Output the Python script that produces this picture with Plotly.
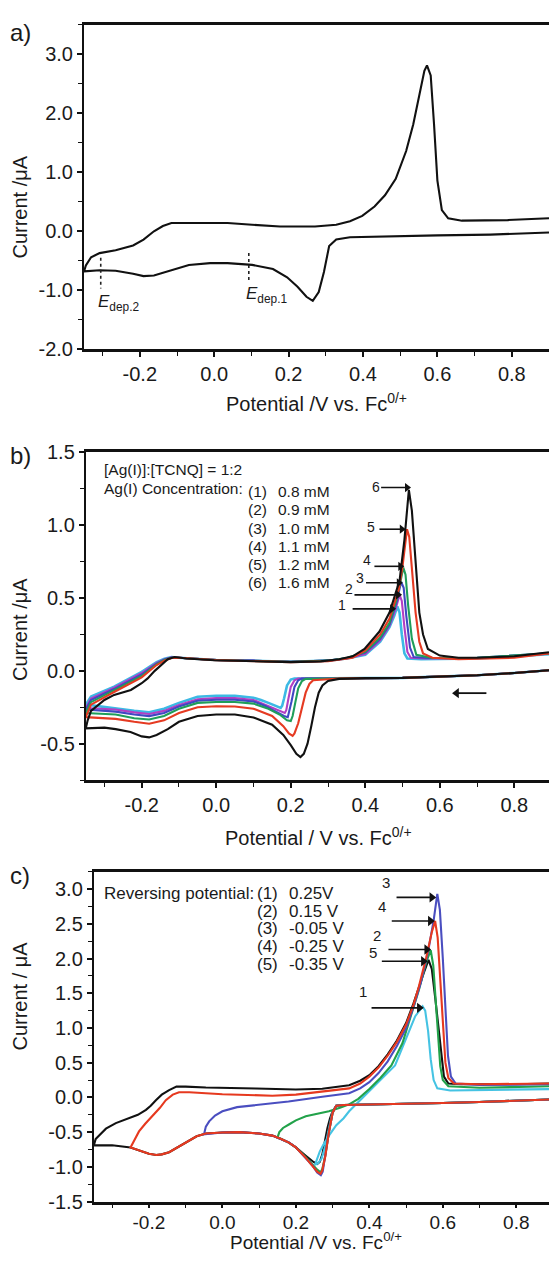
import plotly.graph_objects as go

W, H = 549, 1262
FONT = "Liberation Sans, Arial, sans-serif"

# ---------------- Panel a data (single CV, black) ----------------
a_V = [0.9, 0.742, 0.6, 0.459, 0.365, 0.328, 0.309, 0.295, 0.281, 0.265, 0.248, 0.224, 0.196, 0.158,
       0.102, 0.036, -0.011, -0.068, -0.124, -0.162, -0.19, -0.218, -0.265, -0.308, -0.35,
       -0.345, -0.331, -0.308, -0.265, -0.218, -0.19, -0.162, -0.138, -0.115, -0.058, 0.036, 0.102,
       0.177, 0.271, 0.328, 0.365, 0.398, 0.431, 0.459, 0.488, 0.516, 0.535, 0.554, 0.565, 0.572,
       0.582, 0.591, 0.6, 0.612, 0.629, 0.666, 0.789, 0.9]
a_I = [-0.02, -0.056, -0.07, -0.083, -0.1, -0.14, -0.25, -0.69, -1.03, -1.18, -1.11, -0.94, -0.78, -0.64,
       -0.57, -0.54, -0.54, -0.57, -0.67, -0.75, -0.76, -0.72, -0.67, -0.66, -0.68,
       -0.58, -0.44, -0.37, -0.32, -0.24, -0.14, 0.0, 0.09, 0.14, 0.14, 0.14, 0.11,
       0.08, 0.08, 0.11, 0.17, 0.26, 0.42, 0.61, 0.89, 1.36, 1.81, 2.42, 2.72, 2.81,
       2.64, 1.81, 0.86, 0.36, 0.22, 0.18, 0.19, 0.22]
a_dep_V = [-0.305, 0.093]
a_dep_top = [-0.45, -0.37]
a_dep_bot = [-0.97, -0.85]
a_dep_names = ["dep.2", "dep.1"]

# ---------------- Panel b data (6 concentrations) ----------------
b_names = ["1", "2", "3", "4", "5", "6"]
b_conc = ["0.8 mM", "0.9 mM", "1.0 mM", "1.1 mM", "1.2 mM", "1.6 mM"]
b_colors = ["#3cb9e4", "#b23fc4", "#3f48c2", "#1f9e5a", "#e53a22", "#111111"]

b_right_V = [0.893, 0.8, 0.7, 0.6, 0.5, 0.4, 0.33]
b_right_I = [0.004, -0.015, -0.03, -0.04, -0.048, -0.05, -0.052]

b1_V = b_right_V + [0.21, 0.2, 0.19, 0.182, 0.177, 0.173, 0.165, 0.14, 0.12, 0.1, 0.05, 0.0, -0.05, -0.1, -0.14, -0.18, -0.22, -0.27, -0.35,
                    -0.336, -0.274, -0.2, -0.16, -0.139, -0.12, -0.1, 0.0, 0.1, 0.2, 0.3, 0.35, 0.4, 0.44, 0.465, 0.478, 0.486, 0.492, 0.498, 0.505, 0.513, 0.55, 0.7, 0.893]
b1_I = b_right_I + [-0.053, -0.06, -0.1, -0.19, -0.24, -0.254, -0.245, -0.22, -0.2, -0.185, -0.172, -0.171, -0.178, -0.22, -0.26, -0.284, -0.275, -0.26, -0.232,
                    -0.176, -0.108, -0.007, 0.06, 0.083, 0.095, 0.09, 0.075, 0.07, 0.063, 0.07, 0.085, 0.11, 0.2, 0.3, 0.38, 0.443, 0.4, 0.25, 0.12, 0.085, 0.08, 0.085, 0.115]
b2_V = b_right_V + [0.22, 0.21, 0.2, 0.193, 0.188, 0.184, 0.175, 0.15, 0.12, 0.1, 0.05, 0.0, -0.05, -0.1, -0.14, -0.18, -0.22, -0.27, -0.35,
                    -0.336, -0.274, -0.2, -0.16, -0.139, -0.12, -0.1, 0.0, 0.1, 0.2, 0.3, 0.35, 0.4, 0.44, 0.465, 0.482, 0.492, 0.498, 0.505, 0.513, 0.522, 0.56, 0.7, 0.893]
b2_I = b_right_I + [-0.053, -0.065, -0.11, -0.2, -0.27, -0.289, -0.28, -0.25, -0.22, -0.2, -0.187, -0.187, -0.195, -0.235, -0.275, -0.296, -0.285, -0.265, -0.255,
                    -0.19, -0.115, -0.015, 0.055, 0.08, 0.093, 0.09, 0.075, 0.07, 0.063, 0.07, 0.085, 0.115, 0.21, 0.31, 0.43, 0.522, 0.48, 0.3, 0.13, 0.09, 0.085, 0.088, 0.118]
b3_V = b_right_V + [0.23, 0.22, 0.21, 0.202, 0.196, 0.192, 0.182, 0.16, 0.13, 0.1, 0.05, 0.0, -0.05, -0.1, -0.14, -0.18, -0.22, -0.27, -0.35,
                    -0.336, -0.274, -0.2, -0.16, -0.139, -0.12, -0.1, 0.0, 0.1, 0.2, 0.3, 0.35, 0.4, 0.44, 0.465, 0.485, 0.496, 0.503, 0.51, 0.52, 0.53, 0.57, 0.7, 0.893]
b3_I = b_right_I + [-0.053, -0.065, -0.11, -0.21, -0.29, -0.318, -0.31, -0.28, -0.24, -0.21, -0.198, -0.198, -0.205, -0.245, -0.29, -0.311, -0.3, -0.28, -0.266,
                    -0.2, -0.125, -0.025, 0.05, 0.078, 0.092, 0.09, 0.075, 0.07, 0.063, 0.07, 0.087, 0.125, 0.22, 0.32, 0.48, 0.612, 0.57, 0.38, 0.16, 0.095, 0.088, 0.09, 0.12]
b4_V = b_right_V + [0.24, 0.23, 0.22, 0.212, 0.205, 0.2, 0.19, 0.17, 0.14, 0.1, 0.05, 0.0, -0.05, -0.1, -0.14, -0.18, -0.22, -0.27, -0.35,
                    -0.336, -0.274, -0.2, -0.16, -0.139, -0.12, -0.1, 0.0, 0.1, 0.2, 0.3, 0.35, 0.4, 0.44, 0.465, 0.485, 0.495, 0.502, 0.508, 0.515, 0.525, 0.537, 0.58, 0.7, 0.893]
b4_I = b_right_I + [-0.055, -0.07, -0.12, -0.22, -0.31, -0.345, -0.34, -0.3, -0.26, -0.225, -0.214, -0.214, -0.22, -0.26, -0.31, -0.334, -0.325, -0.3, -0.289,
                    -0.215, -0.135, -0.035, 0.045, 0.075, 0.09, 0.09, 0.075, 0.07, 0.062, 0.07, 0.088, 0.13, 0.23, 0.33, 0.5, 0.62, 0.71, 0.66, 0.45, 0.22, 0.11, 0.088, 0.09, 0.12]
b5_V = b_right_V + [0.26, 0.25, 0.24, 0.23, 0.22, 0.21, 0.205, 0.195, 0.18, 0.15, 0.1, 0.05, 0.0, -0.05, -0.1, -0.14, -0.18, -0.22, -0.27, -0.35,
                    -0.336, -0.274, -0.2, -0.16, -0.139, -0.12, -0.1, 0.0, 0.1, 0.2, 0.3, 0.366, 0.4, 0.44, 0.465, 0.49, 0.5, 0.507, 0.512, 0.518, 0.525, 0.535, 0.545, 0.555, 0.58, 0.65, 0.8, 0.893]
b5_I = b_right_I + [-0.065, -0.09, -0.15, -0.25, -0.36, -0.43, -0.446, -0.43, -0.38, -0.31, -0.26, -0.245, -0.243, -0.25, -0.29, -0.34, -0.363, -0.35, -0.33, -0.318,
                    -0.232, -0.145, -0.045, 0.04, 0.07, 0.088, 0.09, 0.074, 0.068, 0.06, 0.066, 0.09, 0.14, 0.25, 0.36, 0.56, 0.72, 0.88, 0.973, 0.92, 0.7, 0.4, 0.2, 0.12, 0.09, 0.08, 0.09, 0.12]
b6_V = [0.893, 0.8, 0.7, 0.6, 0.5, 0.4, 0.33, 0.3, 0.285, 0.275, 0.265, 0.255, 0.245, 0.235, 0.226, 0.215, 0.2, 0.18, 0.15, 0.1, 0.05, 0.0, -0.05, -0.1, -0.13, -0.16, -0.18, -0.2, -0.23, -0.27, -0.3, -0.35,
        -0.345, -0.336, -0.3, -0.274, -0.229, -0.2, -0.184, -0.165, -0.148, -0.13, -0.112, -0.08, -0.005, 0.1, 0.2, 0.28, 0.33, 0.366, 0.398, 0.438, 0.465, 0.492, 0.505, 0.512, 0.517,
        0.525, 0.532, 0.545, 0.555, 0.568, 0.6, 0.65, 0.7, 0.8, 0.893]
b6_I = [0.004, -0.015, -0.03, -0.04, -0.048, -0.05, -0.055, -0.07, -0.1, -0.15, -0.25, -0.38, -0.5, -0.57, -0.592, -0.57, -0.51, -0.44, -0.37, -0.32, -0.3, -0.3, -0.31, -0.35, -0.4, -0.44, -0.457, -0.45, -0.42, -0.4, -0.39, -0.395,
        -0.34, -0.275, -0.2, -0.165, -0.131, -0.085, -0.052, 0.0, 0.038, 0.08, 0.095, 0.085, 0.073, 0.068, 0.06, 0.065, 0.08, 0.1, 0.15, 0.27, 0.4, 0.62, 0.9, 1.1, 1.243,
        1.1, 0.85, 0.4, 0.25, 0.15, 0.105, 0.09, 0.09, 0.1, 0.128]
b_V = [b1_V, b2_V, b3_V, b4_V, b5_V, b6_V]
b_I = [b1_I, b2_I, b3_I, b4_I, b5_I, b6_I]
# arrows pointing to the anodic peaks: head V, tail V, current level, label position
b_arrow_head_V = [0.472, 0.488, 0.49, 0.494, 0.498, 0.512]
b_arrow_I = [0.426, 0.522, 0.605, 0.718, 0.973, 1.259]
b_arrow_tail_V = [0.366, 0.371, 0.402, 0.4245, 0.438, 0.4425]
b_label_V = [0.337, 0.357, 0.387, 0.404, 0.416, 0.43]
b_label_I = [0.45, 0.56, 0.64, 0.76, 0.99, 1.265]
b_scan_V = [0.725, 0.645]
b_scan_I = -0.153

# ---------------- Panel c data (reversing potentials) ----------------
c_names = ["1", "2", "3", "4", "5"]
c_rev = ["0.25V", "0.15 V", "-0.05 V", "-0.25 V", "-0.35 V"]
c_colors = ["#45c3e3", "#22a24a", "#4a4ec0", "#e6391f", "#111111"]

c_right_V = [0.889, 0.8, 0.7, 0.6, 0.5, 0.4, 0.33, 0.31]
c_right_I = [-0.03, -0.05, -0.065, -0.08, -0.09, -0.1, -0.11, -0.12]
c_mid_V = [0.2, 0.181, 0.16, 0.136, 0.1, 0.045, 0.0, -0.045, -0.07, -0.09, -0.12, -0.145, -0.165, -0.18, -0.2, -0.22, -0.25]
c_mid_I = [-0.72, -0.65, -0.6, -0.55, -0.52, -0.5, -0.505, -0.52, -0.56, -0.62, -0.72, -0.79, -0.82, -0.83, -0.81, -0.77, -0.72]

c5_V = c_right_V + [0.3, 0.293, 0.286, 0.279, 0.272, 0.265, 0.258, 0.248, 0.235, 0.227] + c_mid_V + [-0.3, -0.35,
       -0.345, -0.317, -0.29, -0.254, -0.23, -0.208, -0.195, -0.181, -0.165, -0.145, -0.125, -0.1, -0.045, 0.091, 0.2, 0.272, 0.345, 0.375, 0.4, 0.425, 0.45, 0.475, 0.5, 0.52, 0.535, 0.55, 0.561,
       0.57, 0.58, 0.588, 0.595, 0.603, 0.615, 0.65, 0.8, 0.889]
c5_I = c_right_I + [-0.2, -0.3, -0.44, -0.63, -0.82, -0.93, -0.96, -0.93, -0.88, -0.84] + c_mid_I + [-0.69, -0.69,
       -0.6, -0.45, -0.37, -0.3, -0.25, -0.18, -0.12, -0.04, 0.04, 0.105, 0.155, 0.155, 0.142, 0.128, 0.114, 0.125, 0.175, 0.24, 0.32, 0.45, 0.62, 0.82, 1.07, 1.35, 1.6, 1.82, 1.98,
       1.85, 1.4, 1.0, 0.6, 0.3, 0.2, 0.19, 0.19, 0.2]
c4_V = c_right_V + [0.3, 0.29, 0.28, 0.272, 0.267, 0.258, 0.245, 0.227] + c_mid_V + [
       -0.24, -0.227, -0.21, -0.19, -0.17, -0.154, -0.135, -0.118, -0.09, 0.0, 0.136, 0.2, 0.272, 0.345, 0.375, 0.4, 0.425, 0.45, 0.475, 0.5, 0.52, 0.535, 0.555, 0.57, 0.579,
       0.586, 0.593, 0.6, 0.607, 0.615, 0.63, 0.7, 0.889]
c4_I = c_right_I + [-0.22, -0.5, -0.85, -1.05, -1.1, -1.07, -0.98, -0.87] + c_mid_I + [
       -0.62, -0.49, -0.38, -0.27, -0.15, -0.04, 0.04, 0.075, 0.075, 0.045, 0.025, 0.04, 0.08, 0.13, 0.2, 0.3, 0.43, 0.6, 0.8, 1.05, 1.33, 1.6, 2.02, 2.38, 2.54,
       2.3, 1.7, 1.0, 0.5, 0.28, 0.2, 0.19, 0.2]
c3_V = c_right_V + [0.3, 0.29, 0.28, 0.273, 0.268, 0.258, 0.245, 0.227] + c_mid_V[:8] + [
       -0.05, -0.045, -0.036, -0.02, 0.0, 0.04, 0.09, 0.18, 0.272, 0.345, 0.375, 0.4, 0.425, 0.45, 0.475, 0.5, 0.52, 0.54, 0.56, 0.575, 0.585,
       0.592, 0.6, 0.607, 0.614, 0.622, 0.635, 0.7, 0.889]
c3_I = c_right_I + [-0.22, -0.5, -0.86, -1.07, -1.12, -1.08, -0.98, -0.87] + c_mid_I[:8] + [
       -0.53, -0.42, -0.345, -0.26, -0.2, -0.14, -0.108, -0.06, 0.01, 0.06, 0.13, 0.22, 0.35, 0.52, 0.74, 1.0, 1.3, 1.65, 2.1, 2.55, 2.93,
       2.7, 2.0, 1.2, 0.6, 0.3, 0.2, 0.18, 0.19]
c2_V = c_right_V + [0.3, 0.29, 0.28, 0.272, 0.267, 0.258, 0.245, 0.227, 0.2, 0.181, 0.16, 0.15,
       0.155, 0.165, 0.181, 0.2, 0.227, 0.26, 0.29, 0.32, 0.345, 0.37, 0.4, 0.43, 0.46, 0.49, 0.515, 0.535, 0.555, 0.567,
       0.574, 0.58, 0.586, 0.593, 0.6, 0.615, 0.7, 0.889]
c2_I = c_right_I + [-0.22, -0.5, -0.84, -1.03, -1.08, -1.04, -0.96, -0.86, -0.72, -0.65, -0.6, -0.58,
       -0.5, -0.44, -0.39, -0.33, -0.27, -0.23, -0.2, -0.15, -0.1, -0.02, 0.12, 0.28, 0.46, 0.78, 1.2, 1.55, 1.95, 2.12,
       1.9, 1.4, 0.9, 0.45, 0.25, 0.16, 0.14, 0.16]
c1_V = c_right_V + [0.3, 0.29, 0.28, 0.27, 0.26, 0.252,
       0.258, 0.265, 0.275, 0.29, 0.31, 0.33, 0.345, 0.37, 0.4, 0.43, 0.47, 0.5, 0.525, 0.545,
       0.552, 0.56, 0.567, 0.575, 0.585, 0.62, 0.889]
c1_I = c_right_I + [-0.2, -0.45, -0.7, -0.88, -0.95, -0.97,
       -0.88, -0.78, -0.68, -0.55, -0.4, -0.3, -0.2, -0.07, 0.08, 0.25, 0.46, 0.85, 1.17, 1.31,
       1.25, 0.95, 0.55, 0.25, 0.13, 0.1, 0.12]
c_V = [c1_V, c2_V, c3_V, c4_V, c5_V]
c_I = [c1_I, c2_I, c3_I, c4_I, c5_I]
c_draw_order = [4, 0, 1, 2, 3]
c_arrow_head_V = [0.536, 0.556, 0.57, 0.566, 0.547]
c_arrow_I = [1.29, 2.13, 2.88, 2.54, 1.96]
c_arrow_tail_V = [0.406, 0.452, 0.474, 0.461, 0.434]
c_label_V = [0.384, 0.422, 0.445, 0.434, 0.411]
c_label_I = [1.52, 2.33, 3.10, 2.75, 2.08]

# ---------------- Figure ----------------
fig = go.Figure()

def py2paper(py):
    return 1 - py / H

def px2paper(px):
    return px / W

def line_trace(x, y, xa, ya, color, width, dash=None):
    fig.add_trace(go.Scatter(x=x, y=y, mode="lines",
                             line=dict(color=color, width=width, dash=dash),
                             xaxis=xa, yaxis=ya, showlegend=False, hoverinfo="skip"))

def arrow_trace(tail_v, head_v, level, xa, ya, symbol, size=9, width=1.6):
    line_trace([tail_v, head_v], [level, level], xa, ya, "#111111", width)
    fig.add_trace(go.Scatter(x=[head_v], y=[level], mode="markers",
                             marker=dict(symbol=symbol, size=size, color="#111111", line=dict(width=0)),
                             xaxis=xa, yaxis=ya, showlegend=False, hoverinfo="skip"))

# panel a
line_trace(a_V, a_I, "x", "y", "#111111", 2.1)
for v, t, b in zip(a_dep_V, a_dep_top, a_dep_bot):
    line_trace([v, v], [t, b], "x", "y", "#222222", 1.6, "dot")

# panel b
for V, I, col in zip(b_V, b_I, b_colors):
    line_trace(V, I, "x2", "y2", col, 2.6 if col == "#3cb9e4" else 2.1)
for hv, ai, tv in zip(b_arrow_head_V, b_arrow_I, b_arrow_tail_V):
    arrow_trace(tv, hv, ai, "x2", "y2", "triangle-right", 8)
arrow_trace(b_scan_V[0], b_scan_V[1], b_scan_I, "x2", "y2", "triangle-left", 9, 1.8)

# panel c
for k in c_draw_order:
    line_trace(c_V[k], c_I[k], "x3", "y3", c_colors[k], 2.1)
for hv, ai, tv in zip(c_arrow_head_V, c_arrow_I, c_arrow_tail_V):
    arrow_trace(tv, hv, ai, "x3", "y3", "triangle-right", 9)

ann = []

def txt(px, py, s, size, xanchor="left", yanchor="middle", **kw):
    ann.append(dict(x=px2paper(px), y=py2paper(py), xref="paper", yref="paper", text=s,
                    showarrow=False, xanchor=xanchor, yanchor=yanchor,
                    font=dict(family=FONT, size=size, color="#1a1a1a"), **kw))

# panel labels
txt(8, 22, "a)", 24)
txt(8, 452, "b)", 24)
txt(8, 880, "c)", 24)

# y titles
txt(20, 200, "Current /μA", 20, xanchor="center", textangle=-90)
txt(20, 630, "Current /μA", 20, xanchor="center", textangle=-90)
txt(20, 1003, "Current / μA", 20, xanchor="center", textangle=-90)

# x titles
txt(316, 398, "Potential /V vs. Fc<sup>0/+</sup>", 20, xanchor="center")
txt(318, 840, "Potential / V vs. Fc<sup>0/+</sup>", 20, xanchor="center")
txt(316, 1262, "Potential /V vs. Fc<sup>0/+</sup>", 19, xanchor="center", yanchor="bottom", yshift=-4)

# E_dep labels (panel a)
for v, b, nm in zip(a_dep_V, a_dep_bot, a_dep_names):
    ann.append(dict(x=v, y=b, xref="x", yref="y", text="<i>E</i><sub>" + nm + "</sub>",
                    showarrow=False, xanchor="left", yanchor="top", xshift=-5, yshift=-1,
                    font=dict(family=FONT, size=17, color="#1a1a1a")))

# panel b texts
txt(102, 467, "[Ag(I)]:[TCNQ] = 1:2", 15.5)
txt(102, 486, "Ag(I) Concentration:", 15.5)
for k, (n, cval) in enumerate(zip(b_names, b_conc)):
    y = 489 + 18.6 * k
    txt(246, y, "(" + n + ")", 15.5)
    txt(276, y, cval, 15.5)

for lv, li, n in zip(b_label_V, b_label_I, b_names):
    ann.append(dict(x=lv, y=li, xref="x2", yref="y2", text=n, showarrow=False,
                    font=dict(family=FONT, size=14, color="#1a1a1a")))

# panel c texts
txt(102, 898, "Reversing potential:", 17)
for k, (n, r) in enumerate(zip(c_names, c_rev)):
    y = 898 + 18 * k
    txt(255, y, "(" + n + ")", 17)
    txt(287, y, r, 17)

for lv, li, n in zip(c_label_V, c_label_I, c_names):
    ann.append(dict(x=lv, y=li, xref="x3", yref="y3", text=n, showarrow=False,
                    font=dict(family=FONT, size=15, color="#1a1a1a")))

x_tickvals = [-0.2, 0.0, 0.2, 0.4, 0.6, 0.8]
x_ticktext = ["-0.2", "0.0", "0.2", "0.4", "0.6", "0.8"]
ya_tickvals = [-2, -1, 0, 1, 2, 3]
ya_ticktext = ["-2.0", "-1.0", "0.0", "1.0", "2.0", "3.0"]
yb_tickvals = [-0.5, 0.0, 0.5, 1.0, 1.5]
yb_ticktext = ["-0.5", "0.0", "0.5", "1.0", "1.5"]
yc_tickvals = [-1.5, -1.0, -0.5, 0.0, 0.5, 1.0, 1.5, 2.0, 2.5, 3.0]
yc_ticktext = ["-1.5", "-1.0", "-0.5", "0.0", "0.5", "1.0", "1.5", "2.0", "2.5", "3.0"]

tickfont = dict(family=FONT, size=20, color="#1a1a1a")

def xax(domain_left, rng, anchor, ticklen=5, fsize=20, standoff=0):
    return dict(domain=[px2paper(domain_left), 1], range=rng, anchor=anchor,
                showline=True, linecolor="#111111", linewidth=2.5, mirror=True,
                showgrid=False, zeroline=False, ticks="outside", ticklen=ticklen, tickwidth=1.5, tickcolor="#111111",
                tickmode="array", tickvals=x_tickvals, ticktext=x_ticktext,
                tickfont=dict(family=FONT, size=fsize, color="#1a1a1a"), ticklabelstandoff=standoff,
                minor=dict(ticks="outside", ticklen=4, tickwidth=1.3, tickcolor="#111111", tickmode="linear", tick0=0, dtick=0.1))

def yax(top_px, bot_px, rng, anchor, tv, tt, mdt):
    return dict(domain=[py2paper(bot_px), py2paper(top_px)], range=rng, anchor=anchor,
                showline=True, linecolor="#111111", linewidth=2, mirror=False,
                showgrid=False, zeroline=False, ticks="outside", ticklen=5, tickwidth=1.5, tickcolor="#111111",
                tickmode="array", tickvals=tv, ticktext=tt, tickfont=tickfont,
                minor=dict(ticks="outside", ticklen=4, tickwidth=1.3, tickcolor="#111111", tickmode="linear", tick0=0, dtick=mdt))

fig.update_layout(
    width=W, height=H, margin=dict(l=0, r=0, t=0, b=0),
    paper_bgcolor="white", plot_bgcolor="white",
    font=dict(family=FONT, color="#1a1a1a"),
    xaxis=xax(84, [-0.35, 0.9], "y"),
    yaxis=yax(14, 344.3, [-2, 3.5], "x", ya_tickvals, ya_ticktext, 0.5),
    xaxis2=xax(85.8, [-0.35, 0.893], "y2"),
    yaxis2=yax(449.3, 782.7, [-0.75, 1.5], "x2", yb_tickvals, yb_ticktext, 0.25),
    xaxis3=xax(93.8, [-0.35, 0.889], "y3", ticklen=4, fsize=19, standoff=-2),
    yaxis3=yax(876, 1211.7, [-1.5, 3.25], "x3", yc_tickvals, yc_ticktext, 0.25),
    annotations=ann,
    showlegend=False,
)

fig.write_html("out.html")
